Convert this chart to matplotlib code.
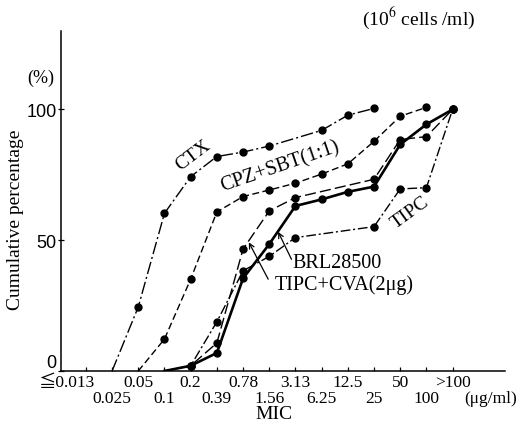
import matplotlib
matplotlib.use("Agg")
import matplotlib.pyplot as plt

plt.rcParams['font.family'] = ['Liberation Serif', 'DejaVu Serif']
plt.rcParams['mathtext.fontset'] = 'stix'

# MIC categories (x positions are the category index)
categories = ['≦0.013', '0.025', '0.05', '0.1', '0.2', '0.39', '0.78', '1.56',
              '3.13', '6.25', '12.5', '25', '50', '100', '>100']

# cumulative % (index into categories, value)
ctx_x = [1, 2, 3, 4, 5, 6, 7, 9, 10, 11]
ctx_y = [0, 24.5, 60.3, 74.3, 82, 83.7, 86, 92, 97.8, 100.4]

cpz_x = [2, 3, 4, 5, 6, 7, 8, 9, 10, 11, 12, 13]
cpz_y = [0, 12.2, 35.1, 60.8, 66.7, 69.2, 71.8, 75.3, 79.2, 87.8, 97.4, 100.8]

tipc_x = [3, 4, 5, 6, 7, 8, 11, 12, 13, 14]
tipc_y = [0, 2, 18.8, 38.3, 43.8, 51, 55.2, 69.6, 70.1, 100]

brl_x = [3, 4, 5, 6, 7, 8, 9, 10, 11, 12, 13, 14]
brl_y = [0, 2, 6.9, 35.4, 48.5, 63.1, 65.6, 68.5, 70.5, 86.6, 94.3, 100]

cva_x = [3, 4, 5, 6, 7, 8, 11, 12, 13, 14]
cva_y = [0, 2, 10.7, 46.6, 61.2, 66.3, 73.3, 88.5, 89.6, 100]

yticks = [0, 50, 100]

fig = plt.figure(figsize=(5.3, 4.31), dpi=100)
ax = fig.add_axes([0.1151, 0.1369, 0.8377, 0.7889])


def draw(xs, ys, ls, lw):
    ax.plot(xs, ys, color='k', linestyle=ls, lw=lw, dash_capstyle='butt')
    mx = [x for x, y in zip(xs, ys) if y > 0]   # no dot where the curve leaves 0
    my = [y for y in ys if y > 0]
    ax.plot(mx, my, 'o', color='k', ms=5, zorder=3)


draw(ctx_x, ctx_y, (0, (9, 2.2, 1.5, 2.2)), 1.0)
draw(cpz_x, cpz_y, (0, (5, 2.5)), 1.0)
draw(tipc_x, tipc_y, (0, (7, 2, 1.5, 2)), 1.0)
draw(cva_x, cva_y, (0, (8, 3)), 1.0)
draw(brl_x, brl_y, '-', 1.9)

ax.set_xlim(-0.95, 16.0)
ax.set_ylim(0, 130)
for s in ('top', 'right'):
    ax.spines[s].set_visible(False)
for s in ('left', 'bottom'):
    ax.spines[s].set_linewidth(1.1)

ax.set_xticks(range(len(categories)))
ax.set_xticklabels([])
ax.tick_params(axis='x', direction='in', length=3.2, width=0.9)
ax.set_yticks(yticks)
ax.set_yticklabels([str(v) for v in yticks], family='Liberation Sans', fontsize=13)
ax.tick_params(axis='y', direction='inout', length=5, width=0.9, pad=0.5)
ax.get_yticklabels()[0].set_va('bottom')

# two staggered rows of MIC labels
xt = ax.get_xaxis_transform()
for i, lab in enumerate(categories):
    xx = -0.73 if i == 0 else i
    yy = -0.032 if i % 2 == 0 else -0.079
    ax.text(xx, yy, lab, transform=xt, ha='center', va='center', fontsize=12.5,
            family=['Liberation Serif', 'Noto Sans CJK JP'])
ax.text(15.46, -0.079, '(μg/ml)', transform=xt, ha='center', va='center', fontsize=12.5)
ax.text(7.18, -0.126, 'MIC', transform=xt, ha='center', va='center', fontsize=14)

# curve labels
ax.text(4.08, 82.8, 'CTX', rotation=37, rotation_mode='anchor', ha='center', va='center',
        fontsize=14)
ax.text(7.4, 78.4, 'CPZ+SBT(1:1)', rotation=19, rotation_mode='anchor', ha='center',
        va='center', fontsize=14.5)
ax.text(12.37, 60.7, 'TIPC', rotation=36, rotation_mode='anchor', ha='center', va='center',
        fontsize=14)
ax.text(7.9, 41.6, 'BRL28500', ha='left', va='center', fontsize=14.5)
ax.text(7.21, 33.2, 'TIPC+CVA(2μg)', ha='left', va='center', fontsize=14.5)
arrow = dict(arrowstyle='->', lw=0.9, color='k', shrinkA=0, shrinkB=0,
             mutation_scale=9)
ax.annotate('', xy=(7.34, 53.2), xytext=(7.85, 42.7), arrowprops=arrow)
ax.annotate('', xy=(6.22, 49.2), xytext=(6.96, 35.1), arrowprops=arrow)

fig.text(0.789, 0.958, r'(10$^{6}$ cells /ml)', ha='center', va='center', fontsize=14)
fig.text(0.077, 0.819, '(%)', ha='center', va='center', fontsize=13)
fig.text(0.030, 0.490, 'Cumulative percentage', rotation=90, ha='center', va='center',
         fontsize=14)

fig.savefig('out.png', dpi=100)
